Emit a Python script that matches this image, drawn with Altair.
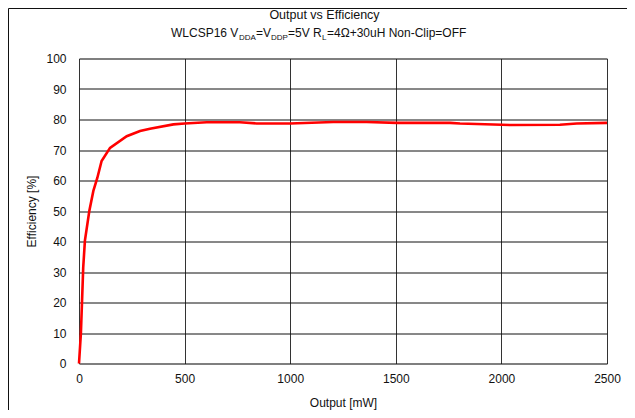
import altair as alt
import pandas as pd

output_mw = [0, 9, 14, 20, 28, 49, 68, 87, 107, 147, 226, 289, 336, 447, 500, 605, 762, 841,
             1000, 1204, 1362, 1504, 1757, 1804, 2041, 2277, 2357, 2500]
efficiency = [0, 9.9, 19.7, 31.5, 40.3, 50.1, 56.6, 60.9, 66.4, 70.7, 74.5, 76.2, 77.0, 78.4,
              78.7, 79.1, 79.1, 78.7, 78.7, 79.2, 79.2, 78.9, 78.9, 78.7, 78.2, 78.3, 78.7, 78.9]
x_ticks = [0, 500, 1000, 1500, 2000, 2500]
y_ticks = [0, 10, 20, 30, 40, 50, 60, 70, 80, 90, 100]

title_text = "Output vs Efficiency"
sub_parts = ["WLCSP16 V", "DDA", "=V", "DDP", "=5V", "R", "L", "=4\u03a9+30uH Non-Clip=OFF"]

FONT = "Liberation Sans"
df = pd.DataFrame({"output": output_mw, "eff": efficiency})

line = alt.Chart(df).mark_line(color="#ff0000", strokeWidth=2.6).encode(
    x=alt.X("output:Q", scale=alt.Scale(domain=[0, 2500], nice=False),
            axis=alt.Axis(values=x_ticks, title="Output [mW]", grid=True, gridColor="#333",
                          gridOpacity=1, ticks=False, domain=False, labelPadding=10, format="d",
                          labelFont=FONT, labelFontSize=12, labelColor="#111",
                          titleFont=FONT, titleFontSize=12, titleFontWeight="normal",
                          titleColor="#111", titlePadding=13, labelFlush=False)),
    y=alt.Y("eff:Q", scale=alt.Scale(domain=[0, 100], nice=False),
            axis=alt.Axis(values=y_ticks, title="Efficiency [%]", grid=True, gridColor="#111",
                          gridOpacity=1, ticks=False, domain=False, labelPadding=13,
                          labelFont=FONT, labelFontSize=12, labelColor="#111",
                          titleFont=FONT, titleFontSize=12, titleFontWeight="normal",
                          titleColor="#111", titlePadding=7, labelFlush=False)),
)

one = pd.DataFrame({"k": [0]})

def txt(s, x, y, size, align="left"):
    return alt.Chart(one).mark_text(text=s, font=FONT, fontSize=size, align=align,
                                    baseline="alphabetic", color="#111").encode(
        x=alt.value(x), y=alt.value(y))

layers = [line, txt(title_text, 245.5, -39.5, 12.5, "center")]
sub_x = [92, 160, 177, 192, 209, 234, 243, 248]
for s, xx in zip(sub_parts, sub_x):
    small = s in ("DDA", "DDP", "L")
    layers.append(txt(s, xx, -19 if small else -21.5, 8 if small else 12))

# outer frame (left & top edges)
frame_l = alt.Chart(one).mark_rule(color="#111", strokeWidth=1).encode(
    x=alt.value(-70.5), y=alt.value(-50), y2=alt.value(360))
frame_t = alt.Chart(one).mark_rule(color="#111", strokeWidth=1).encode(
    x=alt.value(-70.5), x2=alt.value(548), y=alt.value(-50))
layers += [frame_l, frame_t]

chart = alt.layer(*layers).properties(
    width=528, height=305,
    autosize=alt.AutoSizeParams(type="none"),
    padding={"left": 71, "top": 50.5, "right": 20, "bottom": 46.5},
).configure_view(stroke="#000", strokeWidth=1.2).configure(background="white")

chart.save("out.html", embed_options={"renderer": "svg", "actions": False})
